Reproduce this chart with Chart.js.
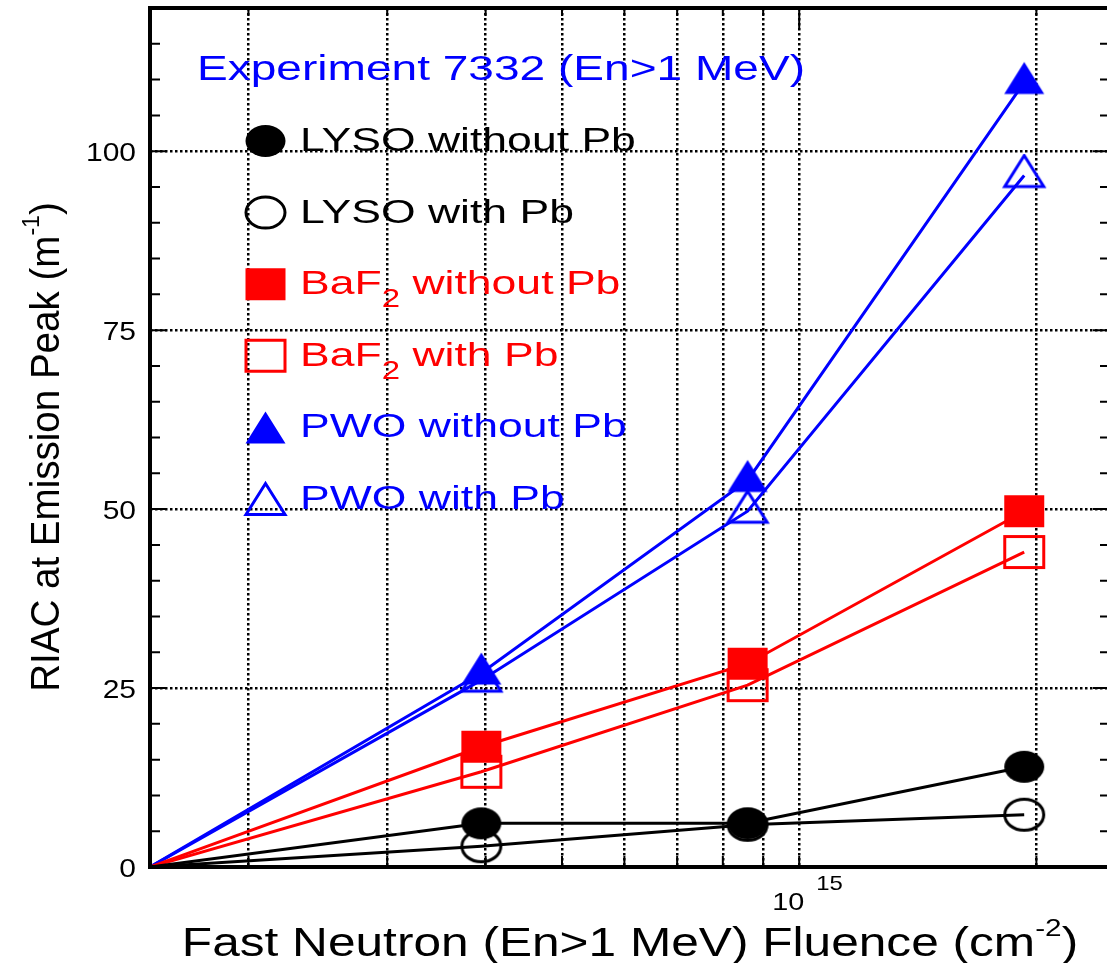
<!DOCTYPE html>
<html>
<head>
<meta charset="utf-8">
<script src="https://cdn.jsdelivr.net/npm/chart.js@4.4.1/dist/chart.umd.min.js"></script>
<style>
  html, body { margin: 0; padding: 0; background: #fff; overflow: hidden; }
  #wrap { width: 1111px; height: 963px; }
</style>
</head>
<body>
<div id="wrap"><canvas id="myChart" width="1111" height="963"></canvas></div>
<script>
// fluence (cm^-2); the first entry is where the curves leave the axis corner
const fluence = [1.5e14, 3.95e14, 8.6e14, 1.93e15];

// RIAC at emission peak (m^-1)
const lysoWithoutPb = [0, 6.1, 6.1, 14.0];
const lysoWithPb    = [0, 2.9, 5.9, 7.3];
const baf2WithoutPb = [0, 16.8, 28.4, 49.7];
const baf2WithPb    = [0, 13.3, 25.4, 44.0];
const pwoWithoutPb  = [0, 27.1, 54.0, 109.6];
const pwoWithPb     = [0, 26.1, 49.7, 96.6];

const labels = ['LYSO without Pb', 'LYSO with Pb', 'BaF2 without Pb', 'BaF2 with Pb', 'PWO without Pb', 'PWO with Pb'];
const colors = ['#000000', '#000000', '#ff0000', '#ff0000', '#0000ff', '#0000ff'];
const shapes = ['circle', 'circle', 'square', 'square', 'triangle', 'triangle'];
const filled = [true, false, true, false, true, false];
const values = [lysoWithoutPb, lysoWithPb, baf2WithoutPb, baf2WithPb, pwoWithoutPb, pwoWithPb];

const xMin = 1.5e14, xMax = 2.48e15;
const yMin = 0, yMax = 120;

const FONT = '"Liberation Sans", Arial, Helvetica, sans-serif';

function drawShape(g, shape, color, isFilled, cx, cy) {
  const w = isFilled ? 40 : 42, h = isFilled ? 32 : 34;
  const ins = isFilled ? 0 : 1.5;
  const rw = w / 2 - ins, rh = h / 2 - ins;
  g.save();
  g.fillStyle = color;
  g.strokeStyle = color;
  g.lineWidth = 3;
  g.beginPath();
  if (shape === 'circle') {
    g.ellipse(cx, cy, rw, rh, 0, 0, Math.PI * 2);
  } else if (shape === 'square') {
    g.rect(cx - rw, cy - rh, rw * 2, rh * 2);
  } else {
    g.moveTo(cx, cy - rh);
    g.lineTo(cx + rw, cy + rh);
    g.lineTo(cx - rw, cy + rh);
    g.closePath();
  }
  if (isFilled) g.fill(); else g.stroke();
  g.restore();
}

function makeMarker(shape, color, isFilled) {
  const c = document.createElement('canvas');
  c.width = 46;
  c.height = 44;
  // triangles sit with the data point 2/3 of the way down from the apex
  const cy = shape === 'triangle' ? 17.5 : 22;
  drawShape(c.getContext('2d'), shape, color, isFilled, 23, cy);
  return c;
}

// parts: strings or [text, sizeFactor, baselineShiftFactor]
function partsWidth(g, parts, size) {
  let w = 0;
  parts.forEach(p => {
    const t = Array.isArray(p) ? p[0] : p;
    const fs = Array.isArray(p) ? size * p[1] : size;
    g.font = fs + 'px ' + FONT;
    w += g.measureText(t).width;
  });
  return w;
}

function drawRich(g, parts, x, y, size, sx, color, align) {
  g.save();
  g.fillStyle = color;
  g.textAlign = 'left';
  g.textBaseline = 'alphabetic';
  g.translate(x, y);
  g.scale(sx, 1);
  const w = partsWidth(g, parts, size);
  let cx = align === 'center' ? -w / 2 : (align === 'right' ? -w : 0);
  parts.forEach(p => {
    const t = Array.isArray(p) ? p[0] : p;
    const fs = Array.isArray(p) ? size * p[1] : size;
    const dy = Array.isArray(p) ? size * p[2] : 0;
    g.font = fs + 'px ' + FONT;
    g.fillText(t, cx, dy);
    cx += g.measureText(t).width;
  });
  g.restore();
}

function labelParts(label) {
  if (label.indexOf('BaF2') === 0) return ['BaF', ['2', 0.74, 0.38], label.slice(4)];
  return [label];
}

function isNice(v) {
  if (!v) return false;
  const m = v / Math.pow(10, Math.floor(Math.log10(v) + 1e-9));
  return Math.abs(m - Math.round(m)) < 1e-6;
}

const decor = {
  id: 'decor',
  afterDraw(chart) {
    const g = chart.ctx;
    const a = chart.chartArea;
    const xs = chart.scales.x, ys = chart.scales.y;
    g.save();
    g.strokeStyle = '#000';
    g.lineCap = 'butt';

    // inward tick marks
    g.lineWidth = 2;
    g.beginPath();
    ys.ticks.forEach(t => {
      const py = ys.getPixelForValue(t.value);
      const len = t.value % 25 === 0 ? 17 : 10;
      g.moveTo(a.left, py); g.lineTo(a.left + len, py);
      g.moveTo(a.right, py); g.lineTo(a.right - len, py);
    });
    xs.ticks.forEach(t => {
      if (!isNice(t.value)) return;
      const px = xs.getPixelForValue(t.value);
      const decade = Math.abs(Math.log10(t.value) - Math.round(Math.log10(t.value))) < 1e-9;
      g.moveTo(px, a.bottom); g.lineTo(px, a.bottom - 11);
      g.moveTo(px, a.top); g.lineTo(px, a.top + (decade ? 22 : 8));
    });
    g.stroke();

    // frame
    g.lineWidth = 4;
    g.strokeRect(a.left, a.top, a.right - a.left, a.bottom - a.top);

    // y tick labels
    ys.ticks.forEach(t => {
      if (t.value % 25 !== 0 || t.value > 100) return;
      const py = ys.getPixelForValue(t.value);
      drawRich(g, [String(t.value)], 136, py + 9.5, 25, 1.2, '#000', 'right');
    });

    // x tick label 10^15
    xs.ticks.forEach(t => {
      if (!isNice(t.value)) return;
      const e = Math.log10(t.value);
      if (Math.abs(e - Math.round(e)) > 1e-9) return;
      const px = xs.getPixelForValue(t.value);
      drawRich(g, ['10'], px - 27, 910, 24, 1.2, '#000', 'left');
      drawRich(g, [String(Math.round(e))], px + 17, 890, 21, 1.14, '#000', 'left');
    });

    // axis titles
    drawRich(g, ['Fast Neutron (En>1 MeV) Fluence (cm', ['-2', 0.6, -0.5], ')'], 630, 956, 41, 1.21, '#000', 'center');
    g.save();
    g.translate(59, 447);
    g.rotate(-Math.PI / 2);
    drawRich(g, ['RIAC at Emission Peak (m', ['-1', 0.6, -0.5], ')'], 0, 0, 41, 0.94, '#000', 'center');
    g.restore();

    // legend
    drawRich(g, ['Experiment 7332 (En>1 MeV)'], 197, 80, 35, 1.316, '#0000ff', 'left');
    labels.forEach((lab, i) => {
      const cy = 141 + i * 71.6;
      drawShape(g, shapes[i], colors[i], filled[i], 265.5, cy);
      drawRich(g, labelParts(lab), 300, cy + 10, 34, 1.31, colors[i], 'left');
    });
    g.restore();
  }
};

const ctx = document.getElementById('myChart');

const chart = new Chart(ctx, {
  type: 'line',
  data: {
    datasets: labels.map((lab, i) => ({
      label: lab,
      data: fluence.map((f, j) => ({ x: f, y: values[i][j] })),
      borderColor: colors[i],
      backgroundColor: colors[i],
      borderWidth: 3,
      pointStyle: makeMarker(shapes[i], colors[i], filled[i]),
      pointBorderWidth: 0,
      pointRadius: c => c.dataIndex === 0 ? 0 : 1,
      pointHoverRadius: c => c.dataIndex === 0 ? 0 : 1,
      tension: 0,
      fill: false
    }))
  },
  options: {
    responsive: false,
    animation: false,
    layout: { padding: { top: 8, right: 0, left: 0, bottom: 0 } },
    plugins: {
      legend: { display: false },
      tooltip: { enabled: false }
    },
    scales: {
      x: {
        type: 'logarithmic',
        min: xMin,
        max: xMax,
        ticks: { display: false },
        grid: {
          drawTicks: false,
          lineWidth: 2.5,
          color: c => isNice(c.tick && c.tick.value) ? '#000' : 'rgba(0,0,0,0)'
        },
        border: { display: false, dash: [2.5, 2.5] },
        afterFit: s => { s.height = 96; }
      },
      y: {
        min: yMin,
        max: yMax,
        ticks: { display: false, stepSize: 5, maxTicksLimit: 30 },
        grid: {
          drawTicks: false,
          lineWidth: 2.5,
          color: c => {
            const v = c.tick ? c.tick.value : 0;
            return (v % 25 === 0 && v > 0 && v < yMax) ? '#000' : 'rgba(0,0,0,0)';
          }
        },
        border: { display: false, dash: [2.5, 2.5] },
        afterFit: s => { s.width = 150; }
      }
    }
  },
  plugins: [decor]
});
</script>
</body>
</html>
